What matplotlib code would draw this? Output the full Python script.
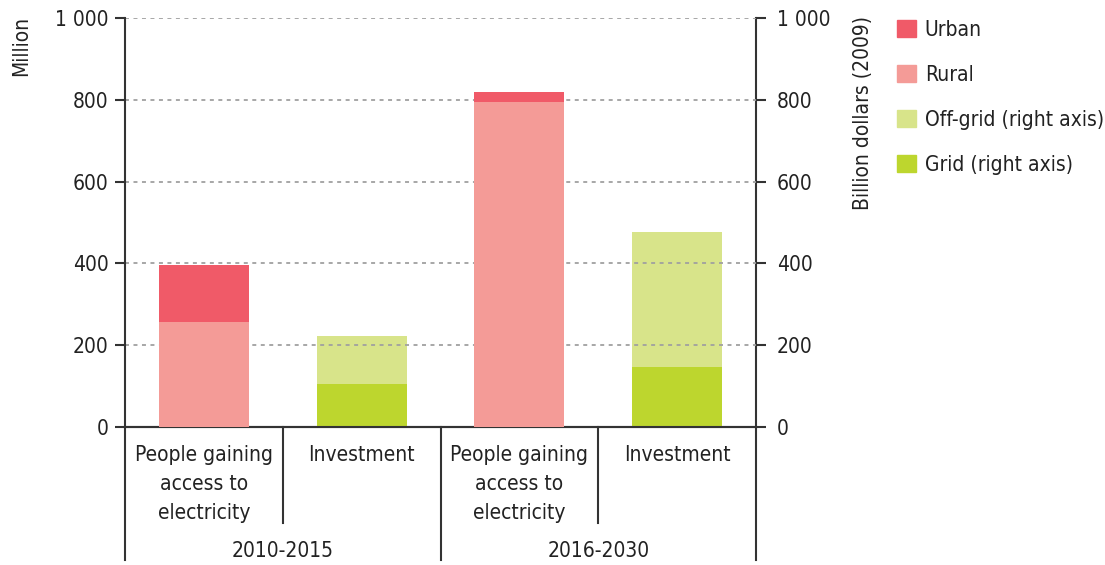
import matplotlib
matplotlib.use("Agg")
import matplotlib.pyplot as plt
from matplotlib.patches import Patch

# ---- data ----
categories = ["People gaining\naccess to\nelectricity", "Investment",
              "People gaining\naccess to\nelectricity", "Investment"]
periods = ["2010-2015", "2016-2030"]
rural = [257, 794]          # million people
urban = [138, 25]
grid = [106, 146]           # billion dollars (2009)
offgrid = [116, 330]
tick_values = [0, 200, 400, 600, 800, 1000]
tick_labels = ["0", "200", "400", "600", "800", "1 000"]

plt.rcParams['font.family'] = ['DejaVu Sans']
plt.rcParams['font.stretch'] = 'condensed'
FS = 15
plt.rcParams['font.size'] = FS

c_urban = "#F05A68"
c_rural = "#F49B97"
c_off = "#D8E48A"
c_grid = "#BDD62E"
spine_c = "#333333"
txt_c = "#222222"

fig = plt.figure(figsize=(11.05, 5.65), dpi=100)
ax = fig.add_axes([125/1105, 1-427/565, (756-125)/1105, (427-18)/565])
ax2 = ax.twinx()

W = 0.57
xp = [0, 2]
xi = [1, 3]
ax.bar(xp, rural, W, color=c_rural, zorder=3)
ax.bar(xp, urban, W, bottom=rural, color=c_urban, zorder=3)
ax2.bar(xi, grid, W, color=c_grid, zorder=3)
ax2.bar(xi, offgrid, W, bottom=grid, color=c_off, zorder=3)

for a in (ax, ax2):
    a.set_xlim(-0.5, 3.5)
    a.set_ylim(0, 1000)
    a.set_yticks(tick_values)
    a.set_yticklabels(tick_labels)
    a.spines["top"].set_visible(False)
    for s in ("left", "right", "bottom"):
        a.spines[s].set_color(spine_c)
        a.spines[s].set_linewidth(1.5)
    a.tick_params(axis='y', direction='out', length=7, width=1.5, color=spine_c,
                  labelsize=FS, labelcolor=txt_c)
    a.set_xticks([])

ax.tick_params(axis='y', pad=5)
ax2.tick_params(axis='y', pad=8)
ax2.spines["left"].set_visible(False)
ax.spines["right"].set_visible(False)

for v in tick_values[1:]:
    ax.axhline(v, color="#a0a0a0", lw=1.3, ls=(0, (2.2, 2.5)), zorder=1)
ax.set_zorder(ax2.get_zorder() + 1)
ax.patch.set_visible(False)

trans = ax.get_xaxis_transform()
for xv, low in [(-0.5, -0.325), (0.5, -0.235), (1.5, -0.325), (2.5, -0.235), (3.5, -0.325)]:
    ax.plot([xv, xv], [0, low], color=spine_c, lw=1.5, transform=trans, clip_on=False, zorder=5)

for i, lab in enumerate(categories):
    ax.text(i, -0.045, lab, transform=trans, ha='center', va='top', fontsize=FS,
            color=txt_c, linespacing=1.55)
for j, p in enumerate(periods):
    ax.text(2*j + 0.5, -0.303, p, transform=trans, ha='center', va='center', fontsize=FS, color=txt_c)

fig.text(21/1105, 1-46/565, "Million", rotation=90, ha='center', va='center', fontsize=FS, color=txt_c)
fig.text(863/1105, 1-113/565, "Billion dollars (2009)", rotation=90, ha='center', va='center',
         fontsize=FS, color=txt_c)

handles = [Patch(color=c_urban, label="Urban"), Patch(color=c_rural, label="Rural"),
           Patch(color=c_off, label="Off-grid (right axis)"), Patch(color=c_grid, label="Grid (right axis)")]
fig.legend(handles=handles, loc='upper left', bbox_to_anchor=(878/1105, 1-1/565), frameon=False,
           handlelength=0.9, handleheight=0.9, handletextpad=0.45, labelspacing=1.2, fontsize=FS,
           labelcolor=txt_c)

fig.savefig("out.png", dpi=100)
